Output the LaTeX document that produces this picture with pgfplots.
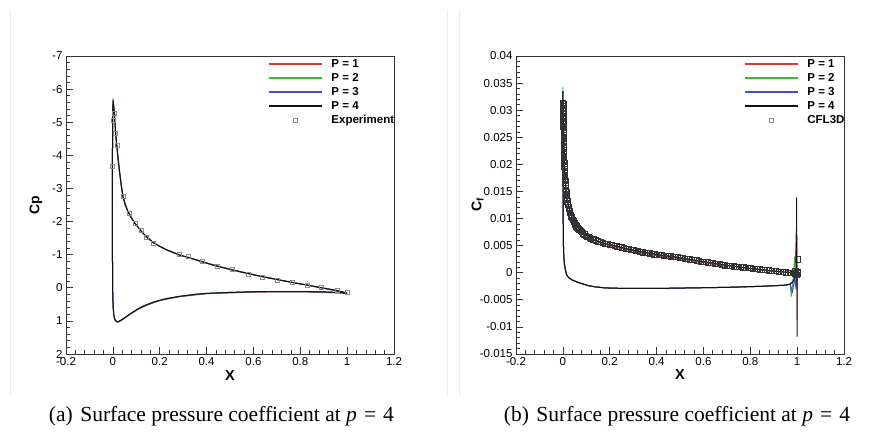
\documentclass[border=0pt]{standalone}
\usepackage{fontspec}
\setmainfont{Liberation Sans}
\newfontfamily\capfont{Liberation Serif}
\usepackage{pgfplots}
\usepackage{pgfplotstable}
\pgfplotsset{compat=1.18}

\definecolor{pone}{HTML}{D83A3A}
\definecolor{ptwo}{HTML}{2EC42E}
\definecolor{pthree}{HTML}{3C4CE0}
\definecolor{pfour}{HTML}{111111}
\definecolor{expgray}{HTML}{8A8A8A}

% Cp, lower surface TE -> LE -> upper surface TE
\pgfplotstableread{
X      Cp
1.000  0.16
0.960  0.14
0.900  0.125
0.800  0.115
0.700  0.115
0.600  0.12
0.500  0.14
0.400  0.17
0.350  0.20
0.284  0.26
0.228  0.33
0.200  0.38
0.171  0.44
0.150  0.50
0.128  0.56
0.105  0.65
0.085  0.74
0.070  0.81
0.050  0.91
0.035  0.98
0.021  1.03
0.014  1.01
0.008  0.95
0.004  0.82
0.001  0.55
-0.001 0.00
-0.002 -1.50
-0.002 -3.50
-0.001 -5.00
0.001  -5.66
0.004  -5.45
0.007  -5.25
0.0115 -4.68
0.017  -4.28
0.023  -3.85
0.029  -3.48
0.036  -3.08
0.043  -2.76
0.053  -2.50
0.064  -2.31
0.078  -2.12
0.093  -1.96
0.110  -1.81
0.128  -1.65
0.150  -1.50
0.171  -1.37
0.200  -1.25
0.228  -1.15
0.260  -1.06
0.284  -0.99
0.320  -0.92
0.370  -0.81
0.440  -0.66
0.510  -0.54
0.577  -0.43
0.636  -0.34
0.700  -0.25
0.767  -0.16
0.830  -0.08
0.890  0.00
0.955  0.08
1.000  0.16
}\cptable

\pgfplotstableread{
X      Cp
-0.003 -3.66
0.000  -5.05
0.007  -5.26
0.0115 -4.67
0.017  -4.30
0.043  -2.75
0.071  -2.25
0.095  -1.95
0.121  -1.73
0.142  -1.54
0.172  -1.36
0.284  -1.00
0.320  -0.94
0.380  -0.79
0.444  -0.64
0.510  -0.55
0.577  -0.42
0.636  -0.33
0.700  -0.24
0.767  -0.16
0.830  -0.09
0.890  -0.02
0.956  0.08
1.000  0.14
}\exptable

% Cf, lower surface from TE -> LE -> upper surface TE
\pgfplotstableread{
X      Cf
0.970  -0.0021
0.950  -0.0023
0.850  -0.0025
0.700  -0.0027
0.550  -0.0028
0.400  -0.0029
0.265  -0.0029
0.180  -0.0028
0.137  -0.0026
0.110  -0.0024
0.080  -0.0020
0.060  -0.0017
0.038  -0.0013
0.025  -0.0009
0.016  -0.0004
0.011  0.0005
0.007  0.0015
0.004  0.0030
0.002  0.0060
0.001  0.0150
0.000  0.0250
0.000  0.0335
0.001  0.0310
0.002  0.0280
0.003  0.0257
0.005  0.0220
0.008  0.0185
0.012  0.0158
0.016  0.0140
0.022  0.0127
0.030  0.0114
0.040  0.0101
0.052  0.0091
0.068  0.0081
0.087  0.0073
0.110  0.0066
0.137  0.0060
0.170  0.0055
0.208  0.0051
0.265  0.0045
0.330  0.0039
0.408  0.0033
0.480  0.0029
0.550  0.0024
0.620  0.0019
0.693  0.0014
0.760  0.0010
0.835  0.0006
0.900  0.0003
0.950  0.0001
0.980  0.0000
0.997  -0.0001
}\cftable

\pgfplotstableread{
X      Cf
0.000  0.0313
0.002  0.0311
0.000  0.0308
0.002  0.0305
0.000  0.0302
0.002  0.0299
0.000  0.0296
0.002  0.0293
0.000  0.0290
0.002  0.0287
0.000  0.0284
0.002  0.0281
0.000  0.0278
0.002  0.0275
0.001  0.0270
0.002  0.0267
0.002  0.0264
0.002  0.0261
0.002  0.0258
0.002  0.0254
0.002  0.0251
0.002  0.0247
0.002  0.0244
0.003  0.0240
0.003  0.0237
0.003  0.0233
0.003  0.0230
0.004  0.0226
0.004  0.0223
0.004  0.0219
0.004  0.0216
0.005  0.0212
0.005  0.0209
0.005  0.0205
0.006  0.0202
0.006  0.0198
0.006  0.0195
0.007  0.0191
0.007  0.0188
0.008  0.0184
0.008  0.0181
0.009  0.0177
0.009  0.0174
0.010  0.0170
0.010  0.0167
0.011  0.0163
0.011  0.0160
0.012  0.0156
0.013  0.0153
0.014  0.0149
0.015  0.0146
0.016  0.0142
0.017  0.0139
0.018  0.0135
0.019  0.0132
0.020  0.0128
0.022  0.0125
0.024  0.0121
0.026  0.0118
0.028  0.0114
0.031  0.0111
0.033  0.0107
0.036  0.0104
0.039  0.0101
0.042  0.0098
0.045  0.0095
0.049  0.0092
0.053  0.0089
0.057  0.0086
0.061  0.0083
0.066  0.0081
0.070  0.0079
0.075  0.0077
0.080  0.0075
0.086  0.0073
0.091  0.0071
0.097  0.0069
0.102  0.0067
0.108  0.0066
0.114  0.0064
0.120  0.0063
0.130  0.0062
0.140  0.0060
0.150  0.0058
0.160  0.00565
0.170  0.0055
0.180  0.0054
0.190  0.0053
0.200  0.0052
0.210  0.0051
0.220  0.0050
0.230  0.0049
0.240  0.0048
0.250  0.0047
0.260  0.0046
0.270  0.0045
0.280  0.0044
0.290  0.0043
0.300  0.0042
0.310  0.0041
0.320  0.0040
0.330  0.0039
0.340  0.0038
0.350  0.0037
0.360  0.00365
0.370  0.0036
0.380  0.0035
0.390  0.0034
0.400  0.00335
0.410  0.0033
0.420  0.00325
0.430  0.0032
0.440  0.00315
0.450  0.0031
0.460  0.00305
0.470  0.0030
0.480  0.00295
0.490  0.0029
0.500  0.0028
0.510  0.0027
0.520  0.00265
0.530  0.0026
0.540  0.0025
0.550  0.0024
0.560  0.00235
0.570  0.0023
0.580  0.0022
0.590  0.0021
0.600  0.00205
0.610  0.0020
0.620  0.00195
0.630  0.0019
0.640  0.0018
0.650  0.0017
0.660  0.00165
0.670  0.0016
0.680  0.0015
0.690  0.0014
0.700  0.00135
0.710  0.0013
0.720  0.00125
0.730  0.0012
0.740  0.00115
0.750  0.0011
0.760  0.00105
0.770  0.0010
0.780  0.00095
0.790  0.0009
0.800  0.00085
0.810  0.0008
0.820  0.00075
0.830  0.0007
0.840  0.00065
0.850  0.0006
0.860  0.00055
0.870  0.0005
0.880  0.00045
0.890  0.0004
0.900  0.00035
0.910  0.0003
0.920  0.00025
0.930  0.0002
0.940  0.00015
0.950  0.0001
0.960  0.00005
0.970  0.0000
0.980  0.0000
0.985  0.0000
0.990  -0.0001
0.992  0.0003
0.995  -0.0002
0.996  -0.0004
1.000  0.0002
1.000  -0.0001
1.002  0.0025
}\cflthreed

\pgfplotsset{
  tecstyle/.style={
    scale only axis, width=328pt, height=298pt,
    axis line style={line width=0.9pt, black!80},
    tick align=inside, xtick pos=bottom, ytick pos=left,
    major tick length=7pt, minor tick length=4pt,
    every tick/.style={line width=0.7pt, black!80},
    minor x tick num=4, minor y tick num=4,
    xmin=-0.2, xmax=1.2, xtick={-0.2,0,0.2,0.4,0.6,0.8,1,1.2},
    ticklabel style={font=\fontsize{11.5}{13}\selectfont},
    /pgf/number format/assume math mode=true,
    /pgf/number format/fixed, /pgf/number format/precision=3,
    scaled ticks=false,
    xlabel={\bfseries X},
    xlabel style={font=\fontsize{14.5}{16}\selectfont, at={(axis description cs:0.5,-0.0705)}, anchor=center},
    ylabel style={font=\fontsize{14}{16}\selectfont, anchor=center},
    legend cell align=left,
    legend image code/.code={
      \draw[mark repeat=2, mark phase=2, #1, line width=1.5pt] plot coordinates {(0pt,0pt) (26.5pt,0pt) (53pt,0pt)};
      \path (62pt,0pt);
    },
    legend style={draw=none, fill=none, anchor=north west, inner sep=0pt, row sep=0.4pt,
      font=\fontsize{11.5}{13}\selectfont\bfseries,
      nodes={inner sep=0pt, text height=10.2pt, text depth=3.4pt}},
  }
}

\begin{document}
\begin{tikzpicture}[x=1pt, y=1pt]
\path[use as bounding box] (0,0) rectangle (884,437);

% faint page edges
\draw[gray!14, line width=0.6pt] (10,40) -- (10,427);
\draw[gray!14, line width=0.6pt] (447,40) -- (447,427);
\draw[gray!14, line width=0.6pt] (459.3,40) -- (459.3,427);

% (a) pressure coefficient
\begin{axis}[tecstyle, at={(66pt,83pt)}, anchor=south west,
  y dir=reverse, ymin=-7, ymax=2, ytick={-7,-6,...,2},
  ylabel={\bfseries Cp},
  ylabel style={at={(axis description cs:-0.0915,0.5)}},
  legend style={at={(rel axis cs:0.616,0.997)}},
]
\addplot[pone, line width=1pt] coordinates {
  (1.000,0.17) (0.800,0.12) (0.600,0.13) (0.400,0.18) (0.284,0.27) (0.200,0.39)
  (0.150,0.51) (0.105,0.66) (0.070,0.82) (0.050,0.92) (0.035,0.99) (0.021,1.04)
  (0.014,1.02) (0.008,0.96) (0.004,0.83) (0.001,0.55) (-0.001,0.00) (-0.002,-1.50)
  (-0.002,-3.50) (-0.001,-5.00) (0.001,-5.72) (0.004,-5.45) (0.007,-5.25)
  (0.0115,-4.68) (0.017,-4.28) (0.029,-3.48) (0.043,-2.76) (0.064,-2.31)
  (0.093,-1.96) (0.128,-1.65) (0.171,-1.37) (0.228,-1.15) (0.284,-0.99)
  (0.370,-0.81) (0.510,-0.54) (0.636,-0.34) (0.767,-0.16) (0.890,0.00) (1.000,0.17)
};
\addlegendentry{P = 1}
\addplot[ptwo, line width=1pt] table[x=X, y=Cp] {\cptable};
\addlegendentry{P = 2}
\addplot[pthree, line width=1pt] table[x=X, y=Cp] {\cptable};
\addlegendentry{P = 3}
\addplot[pfour, line width=1pt] table[x=X, y=Cp] {\cptable};
\addlegendentry{P = 4}
\addplot[only marks, mark=square, mark size=2pt, mark options={draw=expgray, line width=0.5pt}]
  table[x=X, y=Cp] {\exptable};
\addlegendentry{Experiment}
\end{axis}

% (b) skin friction coefficient
\begin{axis}[tecstyle, at={(516pt,83pt)}, anchor=south west,
  ymin=-0.015, ymax=0.04, ytick={-0.015,-0.01,...,0.04},
  ylabel={\bfseries C\textsubscript{f}},
  ylabel style={at={(axis description cs:-0.117,0.5)}},
  legend style={at={(rel axis cs:0.695,0.997)}},
]
\addplot[only marks, mark=square, mark size=2.6pt, mark options={draw=black!80, line width=0.45pt}, forget plot]
  table[x=X, y=Cf] {\cflthreed};
% P = 1
\addplot[pone, line width=1pt] table[x=X, y=Cf] {\cftable};
\addlegendentry{P = 1}
\addplot[pone, line width=0.9pt, forget plot] coordinates {
  (0.137,0.0058) (0.208,0.0049) (0.265,0.0043) (0.330,0.0037) (0.408,0.0031)
  (0.480,0.0027) (0.550,0.0022) (0.620,0.0017) (0.693,0.0012)
};
\addplot[pone, line width=1pt, forget plot] coordinates {
  (0.970,-0.0021) (0.990,-0.0010) (0.997,0.0079) (0.999,0.0000) (1.000,-0.0087) (1.000,0.0000)
};
% P = 2
\addplot[ptwo, line width=1pt] table[x=X, y=Cf] {\cftable};
\addlegendentry{P = 2}
\addplot[ptwo, line width=1pt, forget plot] coordinates {
  (0.000,0.0310) (0.000,0.0342) (0.001,0.0310)
};
\addplot[ptwo, line width=1pt, forget plot] coordinates {
  (0.970,-0.0021) (0.975,-0.0044) (0.985,0.0000) (0.990,0.0030) (0.995,-0.0020) (1.000,0.0000)
};
% P = 3
\addplot[pthree, line width=1pt] table[x=X, y=Cf] {\cftable};
\addlegendentry{P = 3}
\addplot[pthree, line width=1pt, forget plot] coordinates {
  (0.970,-0.0021) (0.980,-0.0035) (0.990,-0.0010) (0.995,-0.0030) (1.000,0.0000)
};
% P = 4
\addplot[pfour, line width=1pt] table[x=X, y=Cf] {\cftable};
\addlegendentry{P = 4}
\addplot[pfour, line width=0.9pt, forget plot] coordinates {
  (0.970,-0.0021) (0.980,-0.0018) (0.990,-0.0010) (0.996,0.0005) (0.998,0.0139)
  (0.999,0.0000) (1.000,-0.0118) (1.000,0.0000)
};
\addlegendimage{only marks, mark=square, mark size=2pt, mark options={draw=expgray, line width=0.5pt}}
\addlegendentry{CFL3D}
\end{axis}

% captions
\node[anchor=base, font=\capfont\fontsize{21.5}{25}\selectfont, inner sep=0pt] at (221.5,16)
  {(a)\hspace{0.35em}Surface pressure coefficient at \textit{p}\hspace{0.33em}=\hspace{0.33em}4};
\node[anchor=base, font=\capfont\fontsize{21.5}{25}\selectfont, inner sep=0pt] at (677,16)
  {(b)\hspace{0.35em}Surface pressure coefficient at \textit{p}\hspace{0.33em}=\hspace{0.33em}4};
\end{tikzpicture}
\end{document}
